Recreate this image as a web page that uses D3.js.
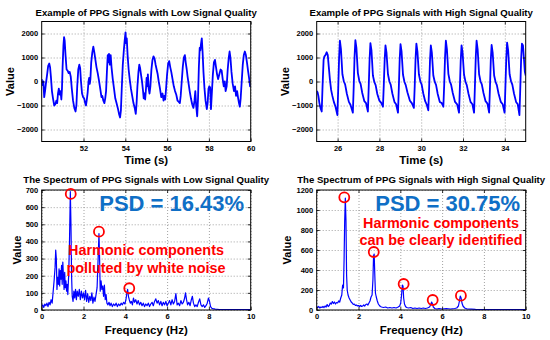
<!DOCTYPE html>
<html>
<head>
<meta charset="utf-8">
<script src="https://cdn.jsdelivr.net/npm/d3@7"></script>
<style>
body { margin: 0; background: #fff; }
svg text { font-family: "Liberation Sans", Arial, sans-serif; font-weight: bold; }
.tick text { font-size: 7.5px; fill: #000; }
.axis path { display: none; }
.axis line { stroke: #000; stroke-width: 0.8; }
.grid path { display: none; }
.grid line { stroke: #8a8a8a; stroke-width: 0.8; stroke-dasharray: 1,2; }
</style>
</head>
<body>
<svg id="chart" width="550" height="340"></svg>
<script>
// PPG signal, low quality: [time (s), value]
var lowSignal = [
  [50.00, 100], [50.04, -150], [50.08, 0], [50.12, -650], [50.16, -400], [50.20, -100],
  [50.26, 300], [50.31, 650], [50.36, 750], [50.40, 600], [50.44, 200], [50.49, -400],
  [50.54, -700], [50.60, -1000], [50.65, -950], [50.70, -800], [50.74, -900], [50.78, -500],
  [50.82, -300], [50.86, -550], [50.90, -400], [50.94, -750], [50.97, -300], [51.00, 600],
  [51.04, 1500], [51.07, 1850], [51.10, 1700], [51.14, 1100], [51.19, 500], [51.24, 450],
  [51.29, 350], [51.34, 400], [51.39, 200], [51.44, -300], [51.50, -800], [51.56, -1100],
  [51.62, -1250], [51.66, -1000], [51.70, -200], [51.75, 500], [51.80, 700], [51.84, 550],
  [51.88, 0], [51.93, -500], [51.98, -650], [52.03, -700], [52.08, -900], [52.12, -1000],
  [52.16, -750], [52.20, -450], [52.24, 0], [52.27, 150], [52.30, -100], [52.33, 100],
  [52.37, 800], [52.42, 1200], [52.47, 1450], [52.52, 1200], [52.57, 900], [52.62, 600],
  [52.68, 350], [52.74, 50], [52.80, -300], [52.86, -650], [52.90, -600], [52.95, -800],
  [53.00, -900], [53.04, -700], [53.08, -400], [53.12, 400], [53.16, 1100], [53.19, 800],
  [53.22, 1150], [53.26, 700], [53.30, 1100], [53.34, 600], [53.40, 100], [53.46, -300],
  [53.52, -700], [53.58, -900], [53.64, -1100], [53.70, -1350], [53.75, -1500], [53.79, -1200],
  [53.83, -300], [53.88, 700], [53.93, 1300], [53.97, 1700], [54.01, 2050], [54.04, 1600],
  [54.07, 1800], [54.11, 1100], [54.16, 500], [54.21, 100], [54.27, -300], [54.33, -600],
  [54.39, -900], [54.45, -1100], [54.50, -1350], [54.54, -900], [54.58, -200], [54.63, 400],
  [54.67, 700], [54.71, 550], [54.75, 300], [54.80, 0], [54.85, -400], [54.88, -700],
  [54.92, -500], [54.95, -750], [54.99, -300], [55.02, 150], [55.05, -200], [55.08, 300],
  [55.12, -300], [55.16, -500], [55.20, -200], [55.25, 500], [55.30, 900], [55.35, 1050],
  [55.40, 950], [55.45, 700], [55.50, 500], [55.55, 300], [55.60, 0], [55.66, -300],
  [55.72, -650], [55.78, -500], [55.83, -800], [55.87, -600], [55.91, -750], [55.95, -300],
  [56.00, 300], [56.05, 750], [56.10, 850], [56.15, 600], [56.20, 400], [56.26, 100],
  [56.32, -200], [56.38, -400], [56.44, -550], [56.50, -800], [56.56, -850], [56.61, -900],
  [56.65, -600], [56.70, 0], [56.75, 600], [56.80, 1000], [56.85, 1100], [56.89, 800],
  [56.94, 500], [56.98, 200], [57.03, -100], [57.08, -400], [57.14, -700], [57.20, -950],
  [57.26, -1100], [57.31, -800], [57.35, -400], [57.39, -1000], [57.44, -1450], [57.48, -700],
  [57.52, 600], [57.56, 1400], [57.59, 1300], [57.62, 1550], [57.66, 1800], [57.70, 1200],
  [57.74, 400], [57.79, -300], [57.84, -800], [57.90, -1150], [57.94, -900], [57.98, -300],
  [58.02, -200], [58.06, -250], [58.10, -1150], [58.14, -500], [58.19, 300], [58.24, 800],
  [58.29, 900], [58.34, 600], [58.39, 300], [58.44, 100], [58.50, 300], [58.56, 500],
  [58.61, 450], [58.66, 100], [58.71, -200], [58.76, 0], [58.80, -400], [58.85, -200],
  [58.90, 500], [58.95, 1000], [58.99, 1250], [59.03, 1000], [59.08, 400], [59.14, -100],
  [59.20, -400], [59.25, -200], [59.30, -600], [59.35, -400], [59.40, -700], [59.44, -900],
  [59.48, -1050], [59.52, -700], [59.57, 0], [59.62, 700], [59.67, 1100], [59.72, 1250],
  [59.77, 1100], [59.82, 800], [59.88, 400], [59.93, 100], [59.97, -200], [60.00, -150]
];

// PPG signal, high quality: [time (s), value]
var highSignal = [
  [25.00, -400], [25.04, -450], [25.08, -600], [25.13, -900], [25.18, -1100], [25.24, -1250],
  [25.28, -200], [25.33, 900], [25.37, 1050], [25.42, 1100], [25.48, 1220], [25.53, 1100],
  [25.58, 600], [25.63, 100], [25.69, -350], [25.75, -600], [25.82, -850], [25.90, -1050],
  [25.99, -1400], [26.03, -300], [26.07, 950], [26.11, 1700], [26.16, 1350], [26.23, 300],
  [26.30, 0], [26.36, -120], [26.44, -500], [26.54, -850], [26.62, -980],
  [26.73, -1300], [26.77, -250], [26.81, 1000], [26.85, 1720], [26.90, 1400], [26.97, 350],
  [27.04, 20], [27.10, -100], [27.18, -480], [27.28, -820], [27.36, -900],
  [27.45, -1250], [27.49, -200], [27.53, 900], [27.57, 1600], [27.62, 1300], [27.69, 250],
  [27.76, -30], [27.82, -150], [27.90, -520], [28.00, -800], [28.08, -880],
  [28.17, -1050], [28.21, -150], [28.25, 850], [28.29, 1500], [28.34, 1200], [28.41, 300],
  [28.48, 0], [28.54, -130], [28.62, -500], [28.72, -850], [28.80, -950],
  [28.89, -1300], [28.93, -250], [28.97, 900], [29.01, 1560], [29.06, 1250], [29.13, 280],
  [29.20, -20], [29.26, -150], [29.34, -450], [29.46, -800], [29.55, -900],
  [29.65, -1100], [29.69, -200], [29.73, 950], [29.77, 1580], [29.82, 1250], [29.89, 300],
  [29.96, 0], [30.02, -120], [30.10, -500], [30.19, -820], [30.26, -950],
  [30.34, -1200], [30.38, -250], [30.42, 850], [30.46, 1500], [30.51, 1200], [30.58, 250],
  [30.65, -20], [30.71, -140], [30.79, -520], [30.89, -850], [30.98, -900],
  [31.06, -1050], [31.10, -150], [31.14, 1000], [31.18, 1700], [31.23, 1350], [31.30, 320],
  [31.37, 0], [31.43, -130], [31.51, -480], [31.62, -850], [31.72, -950],
  [31.81, -1300], [31.85, -250], [31.89, 850], [31.93, 1500], [31.98, 1200], [32.05, 280],
  [32.12, -10], [32.18, -150], [32.26, -500], [32.36, -850], [32.45, -950],
  [32.53, -1300], [32.57, -200], [32.61, 1000], [32.65, 1700], [32.70, 1350], [32.77, 300],
  [32.84, 0], [32.90, -120], [32.98, -480], [33.08, -820], [33.17, -920],
  [33.25, -1300], [33.29, -250], [33.33, 900], [33.37, 1520], [33.42, 1200], [33.49, 250],
  [33.56, -20], [33.62, -150], [33.70, -500], [33.81, -850], [33.90, -950],
  [33.99, -1300], [34.03, -200], [34.07, 950], [34.11, 1620], [34.16, 1300], [34.23, 300],
  [34.30, 0], [34.36, -130], [34.44, -500], [34.54, -850], [34.62, -950],
  [34.70, -1400], [34.74, -300], [34.78, 900], [34.82, 1580], [34.87, 1500], [34.92, 900],
  [34.96, 400], [35.00, 250]
];

// spectrum, low quality: [frequency (Hz), value]
var lowSpectrum = [
  [0.00, 20], [0.05, 30], [0.10, 15], [0.15, 35], [0.20, 25], [0.25, 40], [0.30, 20],
  [0.35, 45], [0.40, 30], [0.45, 60], [0.50, 40], [0.55, 110], [0.60, 180], [0.64, 250],
  [0.67, 350], [0.70, 300], [0.73, 120], [0.76, 190], [0.80, 150], [0.83, 240], [0.86, 140],
  [0.89, 230], [0.92, 180], [0.95, 260], [0.98, 150], [1.01, 280], [1.04, 200], [1.07, 120],
  [1.10, 220], [1.13, 130], [1.16, 170], [1.19, 110], [1.22, 150], [1.25, 90], [1.29, 200],
  [1.33, 400], [1.37, 690], [1.40, 500], [1.43, 200], [1.46, 80], [1.50, 50], [1.54, 110],
  [1.58, 70], [1.62, 120], [1.66, 60], [1.70, 110], [1.75, 80], [1.80, 120], [1.85, 60],
  [1.90, 110], [1.95, 70], [2.00, 100], [2.05, 60], [2.10, 115], [2.15, 50], [2.20, 95],
  [2.25, 45], [2.30, 80], [2.35, 55], [2.40, 100], [2.45, 40], [2.50, 75], [2.55, 50],
  [2.60, 90], [2.65, 130], [2.70, 300], [2.74, 445], [2.77, 300], [2.80, 110], [2.84, 170],
  [2.88, 120], [2.92, 140], [2.96, 80], [3.00, 145], [3.04, 60], [3.08, 90], [3.12, 40],
  [3.17, 30], [3.22, 45], [3.27, 25], [3.32, 40], [3.38, 20], [3.44, 35], [3.50, 25],
  [3.56, 40], [3.62, 20], [3.68, 35], [3.74, 25], [3.80, 40], [3.86, 30], [3.92, 45],
  [3.98, 35], [4.03, 60], [4.07, 95], [4.11, 120], [4.15, 80], [4.19, 60], [4.24, 40],
  [4.29, 50], [4.34, 30], [4.39, 70], [4.44, 45], [4.50, 60], [4.56, 35], [4.62, 55],
  [4.68, 30], [4.74, 45], [4.80, 25], [4.86, 40], [4.92, 20], [4.98, 35], [5.04, 25],
  [5.10, 40], [5.16, 20], [5.22, 35], [5.28, 45], [5.34, 25], [5.40, 50], [5.46, 65],
  [5.52, 40], [5.58, 55], [5.64, 30], [5.70, 50], [5.76, 25], [5.82, 45], [5.88, 30],
  [5.94, 50], [6.00, 25], [6.06, 40], [6.12, 55], [6.18, 30], [6.24, 60], [6.30, 35],
  [6.36, 50], [6.42, 95], [6.48, 30], [6.54, 40], [6.60, 25], [6.66, 55], [6.72, 35],
  [6.78, 45], [6.84, 70], [6.88, 100], [6.93, 60], [6.98, 30], [7.04, 45], [7.10, 25],
  [7.16, 60], [7.21, 80], [7.26, 40], [7.32, 20], [7.38, 30], [7.44, 20], [7.50, 45],
  [7.56, 65], [7.62, 30], [7.68, 20], [7.74, 30], [7.80, 15], [7.86, 25], [7.92, 40],
  [7.98, 70], [8.03, 50], [8.08, 20], [8.14, 10], [8.20, 8], [8.30, 5], [8.50, 3],
  [9.00, 2], [9.50, 2], [10.00, 2]
];

// spectrum, high quality: [frequency (Hz), value]
var highSpectrum = [
  [0.00, 30], [0.05, 25], [0.10, 35], [0.15, 20], [0.20, 30], [0.25, 25], [0.30, 35],
  [0.35, 25], [0.40, 40], [0.45, 30], [0.50, 55], [0.55, 35], [0.60, 45], [0.65, 70],
  [0.70, 60], [0.75, 85], [0.80, 65], [0.85, 80], [0.90, 60], [0.95, 75], [1.00, 70],
  [1.05, 90], [1.10, 80], [1.15, 120], [1.20, 150], [1.24, 250], [1.28, 220], [1.31, 500],
  [1.34, 900], [1.37, 1120], [1.40, 900], [1.43, 350], [1.46, 200], [1.50, 150], [1.55, 120],
  [1.60, 100], [1.65, 80], [1.70, 70], [1.75, 55], [1.80, 60], [1.85, 45], [1.90, 50],
  [1.95, 40], [2.00, 45], [2.05, 35], [2.10, 45], [2.15, 35], [2.20, 40], [2.25, 50],
  [2.30, 40], [2.35, 55], [2.40, 60], [2.45, 50], [2.50, 70], [2.55, 90], [2.60, 130],
  [2.65, 150], [2.69, 300], [2.72, 540], [2.75, 560], [2.78, 350], [2.81, 170], [2.85, 130],
  [2.90, 90], [2.95, 60], [3.00, 45], [3.05, 35], [3.10, 30], [3.20, 25], [3.30, 30],
  [3.40, 20], [3.50, 25], [3.60, 20], [3.70, 25], [3.80, 20], [3.90, 30], [3.97, 40],
  [4.02, 70], [4.06, 150], [4.10, 250], [4.13, 240], [4.16, 120], [4.20, 60], [4.25, 35],
  [4.30, 25], [4.40, 20], [4.50, 25], [4.60, 15], [4.70, 20], [4.80, 15], [4.90, 20],
  [5.00, 15], [5.10, 20], [5.20, 15], [5.30, 20], [5.40, 30], [5.46, 55], [5.50, 80],
  [5.54, 60], [5.58, 30], [5.65, 15], [5.75, 10], [5.85, 15], [6.00, 10], [6.20, 15],
  [6.40, 10], [6.60, 15], [6.70, 20], [6.78, 40], [6.83, 90], [6.87, 140], [6.91, 120],
  [6.95, 70], [7.00, 40], [7.08, 20], [7.20, 10], [7.40, 8], [7.60, 6], [8.00, 5],
  [8.50, 4], [9.00, 3], [9.50, 3], [10.00, 3]
];

// harmonic peaks marked with red circles: [frequency (Hz), value]
var lowPeaks = [[1.39, 677], [2.74, 457], [4.19, 127]];
var highPeaks = [[1.32, 1127], [2.73, 580], [4.16, 260], [5.55, 100], [6.90, 143]];

// tick values
var lowTimeTicks = [52, 54, 56, 58, 60];
var highTimeTicks = [26, 28, 30, 32, 34];
var signalTicks = [-2000, -1000, 0, 1000, 2000];
var freqTicks = [0, 2, 4, 6, 8, 10];
var lowSpecTicks = [0, 100, 200, 300, 400, 500, 600, 700];
var highSpecTicks = [0, 200, 400, 600, 800, 1000, 1200];

var svg = d3.select("#chart");
var panelW = 209;
var panelH = 120;
var plain = d3.format("d");

function drawPanel(p) {
    var g = svg.append("g")
        .attr("transform", `translate(${p.left}, ${p.top})`);

    var x = d3.scaleLinear().domain(p.xDomain).range([0, panelW]);
    var y = d3.scaleLinear().domain(p.yDomain).range([panelH, 0]);

    // dotted grid
    g.append("g")
        .attr("class", "grid")
        .attr("transform", `translate(0, ${panelH})`)
        .call(d3.axisBottom(x).tickValues(p.xTicks).tickSize(-panelH).tickFormat(""));
    g.append("g")
        .attr("class", "grid")
        .call(d3.axisLeft(y).tickValues(p.yTicks).tickSize(-panelW).tickFormat(""));

    var clipId = "clip" + p.id;
    g.append("clipPath").attr("id", clipId)
        .append("rect").attr("width", panelW).attr("height", panelH);

    var line = d3.line()
        .x(d => x(d[0]))
        .y(d => y(d[1]));

    g.append("path")
        .datum(p.data)
        .attr("clip-path", `url(#${clipId})`)
        .attr("fill", "none")
        .attr("stroke", "#0000ff")
        .attr("stroke-width", p.lineWidth)
        .attr("stroke-linejoin", "round")
        .attr("d", line);

    // inward ticks on all four sides
    g.append("g")
        .attr("class", "axis")
        .attr("transform", `translate(0, ${panelH})`)
        .call(d3.axisBottom(x).tickValues(p.xTicks).tickSizeInner(-3).tickSizeOuter(0).tickPadding(4).tickFormat(plain));
    g.append("g")
        .attr("class", "axis")
        .call(d3.axisTop(x).tickValues(p.xTicks).tickSizeInner(-3).tickSizeOuter(0).tickFormat(""));
    g.append("g")
        .attr("class", "axis")
        .call(d3.axisLeft(y).tickValues(p.yTicks).tickSizeInner(-3).tickSizeOuter(0).tickPadding(3.5).tickFormat(plain));
    g.append("g")
        .attr("class", "axis")
        .attr("transform", `translate(${panelW}, 0)`)
        .call(d3.axisRight(y).tickValues(p.yTicks).tickSizeInner(-3).tickSizeOuter(0).tickFormat(""));

    g.append("rect")
        .attr("width", panelW)
        .attr("height", panelH)
        .attr("fill", "none")
        .attr("stroke", "#000")
        .attr("stroke-width", 1);

    // titles and axis labels
    svg.append("text")
        .attr("x", p.left + panelW / 2)
        .attr("y", p.titleY)
        .attr("text-anchor", "middle")
        .attr("font-size", "9.6px")
        .text(p.title);

    svg.append("text")
        .attr("x", p.left + panelW / 2)
        .attr("y", p.xLabelY)
        .attr("text-anchor", "middle")
        .attr("font-size", "11.5px")
        .text(p.xLabel);

    svg.append("text")
        .attr("transform", `translate(${p.yLabelX}, ${p.top + panelH / 2}) rotate(-90)`)
        .attr("text-anchor", "middle")
        .attr("dy", "0.35em")
        .attr("font-size", "11px")
        .text("Value");

    // circled harmonics
    if (p.peaks) {
        g.selectAll("circle.peak")
            .data(p.peaks)
            .enter()
            .append("circle")
            .attr("class", "peak")
            .attr("cx", d => x(d[0]))
            .attr("cy", d => y(d[1]))
            .attr("r", 5)
            .attr("fill", "none")
            .attr("stroke", "#ff0000")
            .attr("stroke-width", 1.8);
    }
    return g;
}

drawPanel({
    id: 1, left: 41.7, top: 21.5,
    xDomain: [50, 60], yDomain: [-2500, 2500],
    xTicks: lowTimeTicks, yTicks: signalTicks,
    data: lowSignal, lineWidth: 1.8,
    title: "Example of PPG Signals with Low Signal Quality", titleY: 15.7,
    xLabel: "Time (s)", xLabelY: 164, yLabelX: 10
});

drawPanel({
    id: 2, left: 316.7, top: 21.5,
    xDomain: [25, 35], yDomain: [-2500, 2500],
    xTicks: highTimeTicks, yTicks: signalTicks,
    data: highSignal, lineWidth: 1.8,
    title: "Example of PPG Signals with High Signal Quality", titleY: 15.7,
    xLabel: "Time (s)", xLabelY: 164, yLabelX: 285
});

drawPanel({
    id: 3, left: 41.7, top: 190,
    xDomain: [0, 10], yDomain: [0, 700],
    xTicks: freqTicks, yTicks: lowSpecTicks,
    data: lowSpectrum, lineWidth: 1.2, peaks: lowPeaks,
    title: "The Spectrum of PPG Signals with Low Signal Quality", titleY: 183.4,
    xLabel: "Frequency (Hz)", xLabelY: 334, yLabelX: 16.7
});

drawPanel({
    id: 4, left: 316.7, top: 190,
    xDomain: [0, 10], yDomain: [0, 1200],
    xTicks: freqTicks, yTicks: highSpecTicks,
    data: highSpectrum, lineWidth: 1.2, peaks: highPeaks,
    title: "The Spectrum of PPG Signals with High Signal Quality", titleY: 183.4,
    xLabel: "Frequency (Hz)", xLabelY: 334, yLabelX: 287.5
});

// annotations
var psdColor = "#0f6fc6";
svg.append("text")
    .attr("x", 171.7).attr("y", 210.5)
    .attr("text-anchor", "middle")
    .attr("font-size", "22px")
    .attr("fill", psdColor)
    .text("PSD = 16.43%");

svg.append("text")
    .attr("x", 447.7).attr("y", 210.5)
    .attr("text-anchor", "middle")
    .attr("font-size", "22px")
    .attr("fill", psdColor)
    .text("PSD = 30.75%");

var noteLow = ["Harmonic components", "polluted by white noise"];
var noteHigh = ["Harmonic components", "can be clearly identified"];

svg.selectAll("text.noteLow")
    .data(noteLow)
    .enter()
    .append("text")
    .attr("class", "noteLow")
    .attr("x", 146)
    .attr("y", (d, i) => 255.2 + i * 17.3)
    .attr("text-anchor", "middle")
    .attr("font-size", "14.4px")
    .attr("fill", "#ff0000")
    .text(d => d);

svg.selectAll("text.noteHigh")
    .data(noteHigh)
    .enter()
    .append("text")
    .attr("class", "noteHigh")
    .attr("x", 441)
    .attr("y", (d, i) => 228 + i * 17.3)
    .attr("text-anchor", "middle")
    .attr("font-size", "14.4px")
    .attr("fill", "#ff0000")
    .text(d => d);
</script>
</body>
</html>
